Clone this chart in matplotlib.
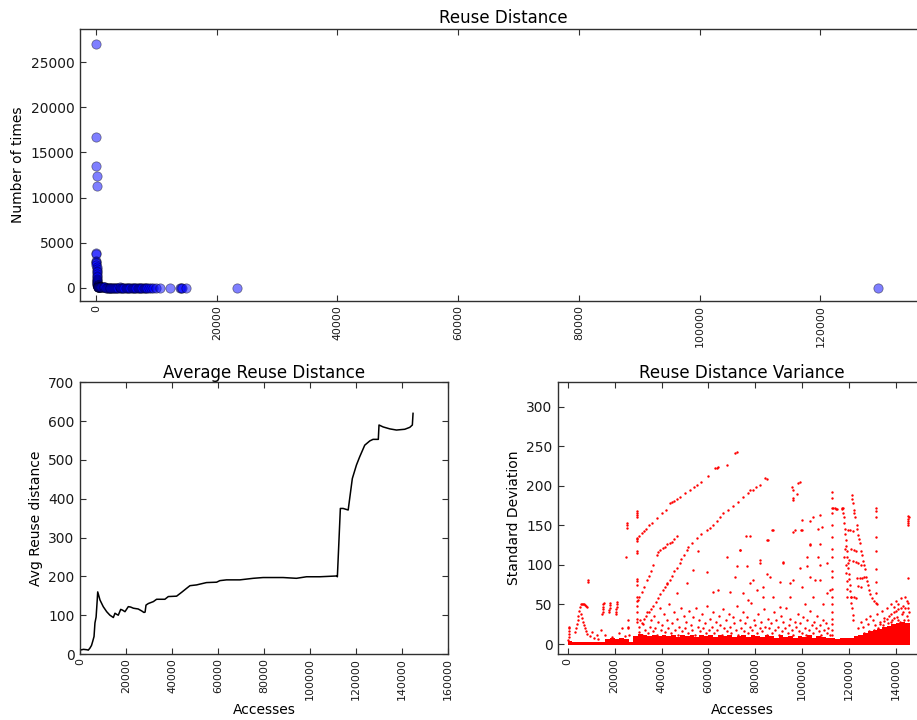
import matplotlib
matplotlib.use("Agg")
import matplotlib.pyplot as plt
import numpy as np

# ---------------- Top: reuse distance histogram (distance, number of times)
hist_head = [
    (0, 27000), (40, 16700), (80, 13500), (120, 12400), (160, 11300),
    (10, 3800), (20, 3700), (30, 3000), (50, 2850), (60, 2700), (70, 2500),
    (90, 2300), (100, 2100), (110, 1900), (130, 1700), (140, 1500), (150, 1300),
    (170, 1150), (180, 1000), (190, 850), (200, 700), (210, 600), (220, 500),
    (230, 420), (240, 350), (250, 300), (260, 250), (280, 200), (300, 160),
    (320, 130), (340, 110), (360, 90), (380, 75), (400, 60), (450, 50),
    (500, 45), (550, 40), (600, 35), (700, 30), (800, 28),
]
hist_tail = [
    (900, 26), (1000, 24), (1100, 22), (1250, 20), (1400, 19), (1500, 18),
    (1650, 17), (1800, 16), (1950, 15), (2100, 14), (2250, 14), (2400, 13),
    (2550, 12), (2700, 12), (2850, 11), (3000, 11), (3150, 10), (3300, 10),
    (3500, 9), (3700, 9), (3900, 8), (4000, 120), (4100, 8), (4300, 7),
    (4500, 7), (4700, 6), (4900, 6), (5100, 6), (5300, 5), (5500, 5),
    (5700, 5), (5900, 4), (6100, 4), (6300, 4), (6500, 4), (6700, 3),
    (6900, 3), (7100, 3), (7300, 3), (7500, 3), (7700, 2), (7900, 2),
    (8100, 2), (8300, 2), (8500, 2), (8800, 2), (9100, 1), (9500, 1),
    (10000, 1), (10600, 1), (12300, 1), (13900, 1), (14050, 1), (14200, 1),
    (14900, 1), (23300, 1), (129500, 1),
]

# ---------------- Bottom-left: average reuse distance (accesses, avg)
avg_curve = [
    (0, 10), (1500, 12), (3000, 11), (3600, 10), (4300, 15), (5000, 22),
    (5500, 32), (6100, 45), (6500, 80), (7000, 95), (7500, 140), (7700, 160),
    (8700, 139), (10100, 122), (11600, 109), (13000, 100), (14500, 94),
    (15200, 105), (16000, 102), (16650, 100), (17700, 115), (18500, 113),
    (19550, 109), (21000, 122), (22000, 121), (23200, 118), (24200, 117),
    (25300, 116), (26800, 111), (27800, 107), (28300, 108), (28700, 126),
    (29700, 130), (31900, 135), (33300, 141), (36900, 141), (38400, 148),
    (42000, 149), (44200, 159), (46300, 169), (47800, 176), (50700, 178),
    (52100, 180), (55000, 184), (59400, 185), (60800, 189), (63700, 191),
    (69500, 191), (75300, 195), (79600, 197), (88300, 197), (94100, 195),
    (98500, 199), (104300, 199), (111500, 201), (111900, 199), (113200, 375),
    (114400, 375), (116600, 371), (118400, 452), (120200, 487), (121600, 508),
    (123800, 538), (126000, 549), (127400, 553), (129700, 553), (130000, 590),
    (131800, 585), (134700, 580), (137600, 577), (141200, 579), (143400, 584),
    (144500, 590), (144800, 620),
]

# ---------------- Bottom-right: reuse distance std deviation (accesses in thousands, std)
band_x_k = [1, 3, 5, 7, 9, 11, 13, 15, 17, 19, 21, 23, 25, 27, 29, 31, 33, 35,
            37, 39, 41, 43, 45, 47, 49, 51, 53, 55, 57, 59, 61, 63, 65, 67, 69,
            71, 73, 75, 77, 79, 81, 83, 85, 87, 89, 91, 93, 95, 97, 99, 101,
            103, 105, 107, 109, 111, 113, 115, 117, 119, 121, 123, 125, 127,
            129, 131, 133, 135, 137, 139, 141, 143, 145]
band_top = [4, 3, 3, 3, 3, 2.5, 2.5, 2, 6, 7, 6, 8, 6, 3, 10, 13, 11, 10,
            12, 10, 11, 10, 12, 9, 11, 10, 12, 9, 11, 10, 12, 9, 11, 10, 12,
            9, 10, 11, 9, 12, 10, 9, 11, 10, 8, 11, 9, 10, 8, 10, 9,
            11, 8, 10, 9, 8, 7, 6, 7, 8, 8, 10, 12, 14,
            16, 18, 19, 21, 23, 25, 27, 28, 26]

var_early = [
    (0.3, 5), (0.35, 9), (0.4, 13), (0.45, 17), (0.5, 20), (0.6, 22),
    (3.0, 15), (3.4, 20), (3.8, 25), (4.2, 30), (4.6, 36), (5.0, 42),
    (5.4, 47), (5.8, 50), (6.2, 51), (6.6, 50), (7.0, 50), (7.4, 49),
    (7.8, 48), (8.2, 47), (5.8, 38), (6.2, 33), (6.6, 28), (7.0, 24),
    (7.4, 20), (7.8, 16), (8.1, 13), (8.5, 81), (8.6, 78),
    (14.8, 38), (14.9, 41), (15.0, 44), (15.1, 47), (15.2, 50), (15.3, 52),
    (17.7, 40), (17.8, 43), (17.9, 46), (18.0, 49), (18.1, 52),
    (20.6, 38), (20.7, 41), (20.8, 44), (20.9, 47), (21.0, 50), (21.1, 53),
    (9.5, 10), (11.0, 8), (12.5, 12), (14.0, 18), (16.0, 12), (19.0, 9),
    (22.0, 14), (23.0, 20), (24.5, 10), (25.5, 22), (26.0, 12), (10.5, 15),
    (13.0, 6), (25.0, 110), (25.1, 147), (25.2, 153), (25.3, 151),
    (25.6, 20), (25.7, 30),
    (29.4, 28), (29.4, 32), (29.4, 40), (29.4, 48), (29.4, 55), (29.4, 60),
    (29.4, 75), (29.4, 80), (29.4, 82), (29.4, 115), (29.4, 118),
    (29.4, 130), (29.4, 133), (29.4, 160), (29.4, 163), (29.4, 166),
    (29.5, 168),
]
var_streaks = [
    # upper streak
    (29.5, 134), (30.5, 137), (31.5, 140), (32.5, 143), (33.5, 146),
    (34.5, 150), (36.0, 153), (38.0, 159), (40.0, 165), (42.0, 170),
    (43.6, 178), (44.5, 179), (45.5, 181), (46.5, 183), (48.0, 186),
    (50.0, 191), (52.0, 195), (54.0, 199), (55.0, 201), (57.0, 205),
    (60.0, 212), (62.8, 222), (63.5, 223), (64.0, 224), (67.8, 226),
    (71.3, 241), (72.0, 243),
    # second streak
    (29.8, 56), (30.5, 60), (31.5, 66), (32.5, 72), (33.7, 81), (34.5, 86),
    (35.5, 92), (36.5, 100), (37.9, 112), (38.5, 116), (39.5, 119),
    (40.5, 121), (41.5, 123), (42.5, 126), (43.5, 128), (44.3, 129),
    (45.5, 133), (46.4, 136),
    # third streak
    (43.6, 81), (44.5, 86), (45.5, 92), (46.5, 96), (47.9, 102), (48.5, 108),
    (49.5, 113), (50.7, 119), (51.5, 123), (53.0, 128), (55.0, 134),
    (57.0, 139), (59.3, 144), (60.5, 147), (62.1, 150), (63.5, 155),
    (65.0, 160), (66.4, 165), (68.5, 170), (70.6, 174), (72.5, 180),
    (74.9, 186), (77.0, 191), (79.2, 195), (80.5, 198), (82.0, 201),
    # lower streak
    (30.5, 22), (31.5, 27), (32.5, 32), (33.5, 36), (34.5, 40), (35.5, 44),
    (36.5, 48), (37.5, 53), (38.5, 58), (39.5, 63), (40.5, 68), (41.5, 72),
    (42.5, 76),
]
var_high = [
    (42.2, 77), (46.5, 64), (50.7, 77), (53.6, 94), (55.7, 117), (59.3, 91),
    (62.1, 66), (64.2, 68), (67.8, 110), (72.0, 98), (73.5, 119),
    (76.2, 136), (77.0, 56), (79.2, 81), (80.6, 68), (82.0, 102), (83.4, 60),
    (84.8, 131), (86.2, 85), (87.6, 144), (90.5, 47), (91.9, 104),
    (94.8, 77), (96.2, 142), (97.6, 190), (99.0, 205), (99.7, 144),
    (101.0, 51), (102.0, 98), (103.3, 127), (104.7, 161), (105.5, 81),
    (106.9, 110), (108.3, 148), (109.0, 51), (110.4, 102), (111.9, 68),
    (84.1, 210), (95.5, 199), (96.2, 184), (84.9, 209), (98.3, 203),
    (96.2, 195), (96.2, 182), (77.7, 195), (99.8, 157), (103.3, 155),
    (107.6, 163), (106.9, 146), (99.8, 144), (96.9, 144), (87.0, 144),
    (77.7, 136), (85.5, 131), (73.5, 119), (103.3, 125), (107.6, 127),
    (101.9, 110), (91.9, 102), (82.0, 106), (99.0, 96), (107.6, 100),
    (76.3, 98), (96.2, 81), (71.3, 85), (84.9, 89), (103.3, 85), (77.7, 77),
    (83.4, 72), (90.5, 79), (99.8, 72), (107.6, 81), (69.2, 66), (74.9, 64),
    (87.6, 60), (94.8, 60), (104.7, 60), (110.4, 64),
]
var_right = [
    # vertical line near 112.7k
    (112.7, 192), (112.7, 185), (112.6, 172), (113.2, 172), (113.8, 172),
    (114.4, 171), (115.0, 171), (112.7, 165), (112.7, 150), (112.7, 135),
    (112.7, 120), (112.7, 110), (112.7, 92), (112.7, 85), (112.7, 70),
    (112.7, 60), (112.7, 50), (112.7, 40), (112.7, 32), (112.7, 25),
    (112.7, 18), (112.7, 12),
    # dense slanted line
    (116.8, 172), (117.1, 171), (117.3, 172), (117.6, 166), (117.8, 160),
    (118.0, 153), (118.2, 146), (118.4, 139), (118.6, 132), (118.8, 124),
    (119.0, 117), (119.2, 110), (119.4, 103), (119.6, 96), (119.8, 89),
    (120.0, 82), (120.3, 74), (120.5, 67), (120.7, 60), (121.0, 52),
    (121.2, 45), (121.5, 37), (121.8, 30), (118.5, 100), (118.7, 90),
    (118.9, 80), (119.1, 70), (119.3, 60), (117.9, 110), (118.1, 120),
    # dashed slanted line
    (121.1, 188), (121.3, 183), (121.5, 178), (122.0, 170), (122.3, 165),
    (122.6, 160), (123.2, 150), (123.5, 145), (124.0, 138), (124.3, 133),
    (124.6, 128), (125.2, 118), (125.5, 113), (126.0, 105), (126.3, 100),
    (126.6, 95), (127.3, 85), (127.6, 80), (128.0, 75), (128.7, 68),
    (129.0, 63), (129.8, 58), (130.5, 55), (131.3, 52), (131.8, 50),
    # horizontal dashes
    (119.5, 144), (120.5, 144), (121.5, 143), (121.0, 120), (122.0, 119),
    (123.0, 118), (120.0, 106), (121.5, 105), (123.0, 104), (124.0, 103),
    (123.5, 83), (124.5, 84), (125.5, 84), (126.5, 85), (125.0, 100),
    (121.0, 60), (122.0, 59), (123.0, 58), (124.0, 73), (125.0, 72),
    # dotted vertical near 131.3k
    (131.3, 172), (131.3, 168), (131.3, 160), (131.4, 135), (131.3, 118),
    (131.4, 95), (131.3, 78), (131.4, 65),
    # right edge cluster
    (145.0, 150), (145.1, 153), (145.2, 156), (145.3, 158), (145.4, 160),
    (145.3, 162), (145.2, 84),
    # wedge
    (124, 20), (125, 28), (126, 22), (127, 32), (128, 25), (129, 35),
    (130, 30), (131, 24), (132, 38), (133, 28), (134, 42), (135, 33),
    (136, 45), (137, 36), (138, 50), (139, 40), (140, 55), (141, 44),
    (142, 58), (143, 48), (144, 60), (145, 52), (145.5, 40), (144.5, 35),
    (143.5, 30), (142.5, 38), (141.5, 28), (140.5, 34), (139.5, 24),
    (138.5, 30), (137.5, 22), (136.5, 27), (135.5, 20), (134.5, 24),
    (133.5, 18), (132.5, 20), (131.5, 16), (130.5, 18), (129.5, 14),
    (128.5, 16), (127.5, 13), (126.5, 14), (144, 45), (143, 40), (142, 46),
    (141, 50), (140, 42), (139, 47), (138, 38), (145, 30), (144.2, 25),
    (143.2, 20), (142.2, 18), (140.8, 30), (139.2, 33), (137.8, 28),
    (136.2, 32), (134.8, 29), (133.2, 25), (145.3, 45), (144.7, 55),
]
var_mid = [
    (30.2, 15), (31.0, 30), (31.8, 12), (32.2, 25), (33.0, 18), (33.8, 40),
    (34.4, 14), (35.0, 22), (35.6, 30), (36.2, 16), (36.8, 35), (37.4, 20),
    (38.0, 12), (38.6, 28), (39.2, 45), (39.8, 18), (40.4, 24), (41.0, 38),
    (41.6, 15), (42.2, 30), (42.8, 20), (43.4, 50), (44.0, 14), (44.6, 26),
    (45.2, 40), (45.8, 18), (46.4, 32), (47.0, 12), (47.6, 22), (48.2, 46),
    (48.8, 16), (49.4, 36), (50.0, 20), (50.6, 28), (51.2, 14), (51.8, 42),
    (52.4, 24), (53.0, 18), (53.6, 34), (54.2, 12), (54.8, 45), (55.4, 22),
    (56.0, 30), (56.6, 16), (57.2, 38), (57.8, 20), (58.4, 26), (59.0, 14),
    (59.6, 48), (60.2, 18), (60.8, 32), (61.4, 22), (62.0, 40), (62.6, 14),
    (63.2, 28), (63.8, 18), (64.4, 36), (65.0, 24), (65.6, 12), (66.2, 44),
    (66.8, 20), (67.4, 30), (68.0, 16), (68.6, 38), (69.2, 22), (69.8, 14),
    (70.4, 34), (71.0, 26), (71.6, 18), (72.2, 48), (72.8, 12), (73.4, 30),
    (74.0, 20), (74.6, 40), (75.2, 16), (75.8, 26), (76.4, 34), (77.0, 14),
    (77.6, 22), (78.2, 52), (78.8, 18), (79.4, 30), (80.0, 24), (80.6, 14),
    (81.2, 38), (81.8, 20), (82.4, 28), (83.0, 16), (83.6, 44), (84.2, 22),
    (84.8, 12), (85.4, 32), (86.0, 20), (86.6, 26), (87.2, 14), (87.8, 40),
    (88.4, 18), (89.0, 30), (89.6, 22), (90.2, 12), (90.8, 36), (91.4, 16),
    (92.0, 28), (92.6, 20), (93.2, 46), (93.8, 14), (94.4, 24), (95.0, 32),
    (95.6, 18), (96.2, 12), (96.8, 28), (97.4, 22), (98.0, 38), (98.6, 16),
    (99.2, 26), (99.8, 14), (100.4, 34), (101.0, 20), (101.6, 12),
    (102.2, 30), (102.8, 18), (103.4, 42), (104.0, 24), (104.6, 14),
    (105.2, 28), (105.8, 20), (106.4, 36), (107.0, 16), (107.6, 24),
    (108.2, 12), (108.8, 30), (109.4, 18), (110.0, 26), (110.6, 14),
    (111.2, 20), (111.8, 12),
]

# ---------------- figure
plt.rcParams['font.family'] = ['DejaVu Sans']
fig = plt.figure(figsize=(9.17, 7.2), dpi=100)
W, H = 917.0, 720.0


def box(l, t, r, b):
    return [l / W, 1 - b / H, (r - l) / W, (b - t) / H]


spine_col = '#303030'


def style(ax):
    for s in ax.spines.values():
        s.set_color(spine_col)
        s.set_linewidth(1.0)
    ax.tick_params(direction='in', top=True, right=True, length=4,
                   width=0.8, colors=spine_col, labelcolor='#1a1a1a',
                   labelsize=10, pad=4)
    ax.tick_params(axis='x', labelsize=7.9, labelrotation=90, pad=3)


# top
ax1 = fig.add_axes(box(80, 29, 926, 301))
hx = [p[0] for p in hist_head + hist_tail]
hy = [p[1] for p in hist_head + hist_tail]
ax1.scatter(hx, hy, s=45, facecolor='blue', edgecolor='black',
            linewidths=0.5, alpha=0.5, zorder=3)
ax1.set_xticks(np.arange(0, 120001, 20000))
ax1.set_yticks(np.arange(0, 25001, 5000))
ax1.set_xlim(-2650, 137500)
ax1.set_ylim(-1480, 28700)
style(ax1)
ax1.set_title('Reuse Distance', fontsize=12, pad=4)
ax1.set_ylabel('Number of times', fontsize=10)

# bottom-left
ax2 = fig.add_axes(box(80, 382.3, 448, 654))
ax2.plot([p[0] for p in avg_curve], [p[1] for p in avg_curve],
         color='black', lw=1.1)
ax2.set_xticks(np.arange(0, 160001, 20000))
ax2.set_yticks(np.arange(0, 701, 100))
ax2.set_xlim(0, 160000)
ax2.set_ylim(0, 700)
style(ax2)
ax2.set_title('Average Reuse Distance', fontsize=12, pad=3)
ax2.set_xlabel('Accesses', fontsize=10, labelpad=2)
ax2.set_ylabel('Avg Reuse distance', fontsize=10)

# bottom-right
ax3 = fig.add_axes(box(558, 382.3, 926, 654))
ax3.bar(np.array(band_x_k) * 1000, np.array(band_top) + 1.5, width=2000,
        bottom=-1.5, color='red', linewidth=0, zorder=2)
pts = var_early + var_streaks + var_high + var_right + var_mid
ax3.scatter([p[0] * 1000 for p in pts], [p[1] for p in pts], s=3,
            color='red', linewidths=0, zorder=3)
ax3.set_xticks(np.arange(0, 140001, 20000))
ax3.set_yticks(np.arange(0, 301, 50))
ax3.set_xlim(-4140, 152800)
ax3.set_ylim(-12.6, 330.8)
style(ax3)
ax3.set_title('Reuse Distance Variance', fontsize=12, pad=3)
ax3.set_xlabel('Accesses', fontsize=10, labelpad=2)
ax3.set_ylabel('Standard Deviation', fontsize=10)

fig.savefig('out.png', dpi=100)
